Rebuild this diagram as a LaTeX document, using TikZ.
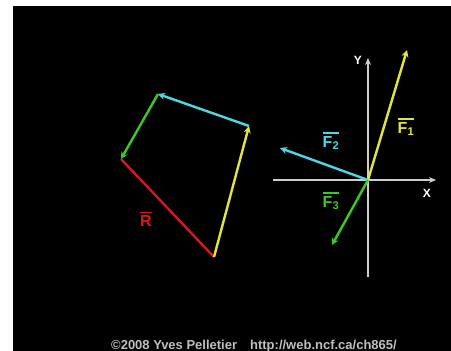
\documentclass[tikz,border=0pt]{standalone}
\usepackage{fontspec}
\setmainfont{Liberation Sans}
\usetikzlibrary{arrows.meta}
\definecolor{vyel}{RGB}{228,228,60}
\definecolor{vcyan}{RGB}{80,215,230}
\definecolor{vgreen}{RGB}{60,200,40}
\definecolor{vred}{RGB}{215,25,30}
\definecolor{axgray}{RGB}{205,205,205}
\tikzset{
  vec/.style={line width=2.4pt, -{Stealth[length=7pt,width=7pt]}},
  axis/.style={axgray, line width=2pt, -{Stealth[length=7pt,width=6pt]}},
  lbl/.style={font=\bfseries\fontsize{16}{16}\selectfont, inner sep=0pt},
  axlbl/.style={white, font=\bfseries\fontsize{12}{12}\selectfont, inner sep=0pt}
}
\newcommand{\vlab}[2]{\hbox{\vbox{\hrule height 1.3pt\kern2.5pt\hbox{#1\textsubscript{#2}}}}}
\newcommand{\rlab}[1]{\hbox{\vbox{\hrule height 1.3pt\kern2.5pt\hbox{#1}}}}
\begin{document}
\begin{tikzpicture}[x=1pt,y=-1pt]
\useasboundingbox (0,0) rectangle (451,351);
\fill[white] (0,0) rectangle (451,351);
\fill[black] (13,6) rectangle (451,351);
% axes
\coordinate (O) at (368,180);
\coordinate (xl) at (273,180);
\coordinate (xr) at (436,180);
\coordinate (yb) at (368,277);
\coordinate (yt) at (368,58);
\draw[axis] (xl) -- (xr);
\draw[axis] (yb) -- (yt);
\node[axlbl] (X) at (427,193) {X};
\node[axlbl] (Y) at (358,60) {Y};
% force vectors
\coordinate (F1e) at (407,50);
\coordinate (F2e) at (280,148);
\coordinate (F3e) at (332,245);
\draw[vec, vyel] (O) -- (F1e);
\draw[vec, vcyan] (O) -- (F2e);
\draw[vec, vgreen] (O) -- (F3e);
\node[lbl, vyel] (L1) at (406,127) {\vlab{F}{1}};
\node[lbl, vcyan] (L2) at (331,141) {\vlab{F}{2}};
\node[lbl, vgreen] (L3) at (331,201) {\vlab{F}{3}};
% polygon
\coordinate (A) at (214,257);
\coordinate (B) at (249,126);
\coordinate (C) at (158,94);
\coordinate (D) at (121,159);
\draw[vred, line width=2.4pt] (A) -- (D);
\draw[vec, vyel] (A) -- (B);
\draw[vec, vcyan] (B) -- (C);
\draw[vec, vgreen] (C) -- (D);
\node[lbl, vred] (LR) at (146,219) {\rlab{R}};
% credit
\node[inner sep=0pt, anchor=base, text=gray!50!white, font=\bfseries\fontsize{13}{13}\selectfont] (cr) at (254,349) {\copyright2008 Yves Pelletier\quad http://web.ncf.ca/ch865/};
\end{tikzpicture}
\end{document}
